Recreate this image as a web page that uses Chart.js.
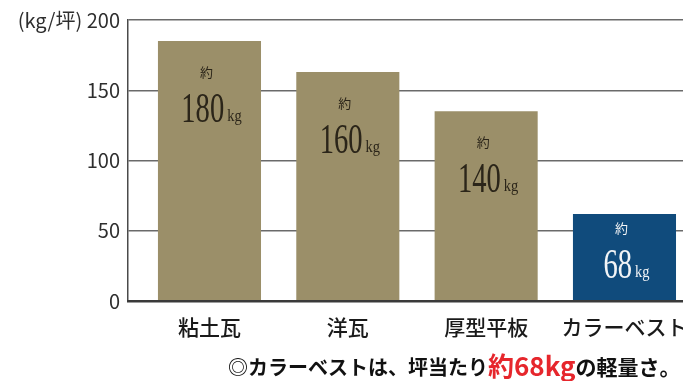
<!DOCTYPE html>
<html>
<head>
<meta charset="utf-8">
<script src="https://cdn.jsdelivr.net/npm/chart.js@4"></script>
<style>
  html, body { margin: 0; padding: 0; background: #fff; overflow: hidden; }
  canvas { display: block; }
</style>
</head>
<body>
<canvas id="weightChart" width="683" height="381"></canvas>
<script>
// ========================================
// DATA
// ========================================
const categories = ['粘土瓦', '洋瓦', '厚型平板', 'カラーベスト'];
const weights = [185, 163, 135, 62];          // bar heights as drawn (kg/坪)
const weightLabels = ['180', '160', '140', '68'];
const yTicks = [0, 50, 100, 150, 200];
const barColors = ['#9b8f69', '#9b8f69', '#9b8f69', '#104b7c'];
const labelColors = ['#2b2519', '#2b2519', '#2b2519', '#f2f4f6'];
const captionParts = [
    { text: '◎カラーベストは、坪当たり', color: '#111', size: 20 },
    { text: '約68kg', color: '#e6262c', size: 26 },
    { text: 'の軽量さ。', color: '#111', size: 21 }
];

const JP = '"Noto Sans CJK JP", "Noto Sans", sans-serif';

// ========================================
// PLUGINS
// ========================================
const barLabels = {
    id: 'barLabels',
    afterDatasetsDraw(chart) {
        const ctx = chart.ctx;
        const meta = chart.getDatasetMeta(0);
        meta.data.forEach((bar, i) => {
            const h = bar.base - bar.y;
            const off = h > 120 ? 0 : -17;
            const cx = bar.x;
            ctx.save();
            ctx.fillStyle = labelColors[i];
            ctx.textBaseline = 'middle';
            ctx.textAlign = 'center';
            ctx.font = '13px ' + JP;
            ctx.fillText('約', cx - 3, bar.y + 31 + off);

            // condensed serif number + small kg
            ctx.font = '42px "Liberation Serif", serif';
            const sx = 0.68;
            const numW = ctx.measureText(weightLabels[i]).width * sx;
            ctx.font = '17px "Liberation Serif", serif';
            const kgW = ctx.measureText('kg').width * 0.85;
            const gap = 3;
            const startX = cx + 2 - (numW + gap + kgW) / 2;
            const baseY = bar.y + 81 + off;

            ctx.textAlign = 'left';
            ctx.textBaseline = 'alphabetic';
            ctx.save();
            ctx.translate(startX, baseY);
            ctx.scale(sx, 1);
            ctx.font = '42px "Liberation Serif", serif';
            ctx.fillText(weightLabels[i], 0, 0);
            ctx.restore();

            ctx.save();
            ctx.translate(startX + numW + gap, baseY - 1);
            ctx.scale(0.85, 1);
            ctx.font = '17px "Liberation Serif", serif';
            ctx.fillText('kg', 0, 0);
            ctx.restore();
            ctx.restore();
        });
    }
};

const caption = {
    id: 'caption',
    afterDraw(chart) {
        const ctx = chart.ctx;
        ctx.save();
        ctx.textBaseline = 'alphabetic';
        ctx.textAlign = 'left';
        let x = 228;
        const y = 375;
        captionParts.forEach(p => {
            ctx.font = 'bold ' + p.size + 'px ' + JP;
            ctx.fillStyle = p.color;
            ctx.fillText(p.text, x, y + (p.size > 21 ? 1 : 0));
            x += ctx.measureText(p.text).width;
        });
        ctx.restore();
    }
};

// ========================================
// CHART
// ========================================
function createWeightChart() {
    const ctx = document.getElementById('weightChart');

    new Chart(ctx, {
        type: 'bar',
        data: {
            datasets: [{
                data: weights.map((v, i) => ({ x: i, y: v })),
                backgroundColor: barColors,
                borderWidth: 0,
                barPercentage: 0.745,
                categoryPercentage: 1
            }]
        },
        options: {
            responsive: false,
            animation: false,
            layout: { padding: { top: 20, left: 0, right: 0, bottom: 0 } },
            plugins: {
                legend: { display: false },
                tooltip: { enabled: false }
            },
            scales: {
                x: {
                    type: 'linear',
                    offset: false,
                    min: -0.589,
                    max: 3.423,
                    afterBuildTicks: s => { s.ticks = categories.map((_, i) => ({ value: i })); },
                    afterFit: s => { s.height = 80; s.paddingLeft = 0; s.paddingRight = 0; },
                    grid: { display: false, drawTicks: false, offset: false },
                    border: { display: true, color: '#3a3a3a', width: 2.5, z: 1 },
                    ticks: {
                        autoSkip: false,
                        maxRotation: 0,
                        padding: 13,
                        color: '#1a1a1a',
                        font: { size: 21, family: JP, weight: '500' },
                        callback: v => categories[v] ?? ''
                    }
                },
                y: {
                    min: 0,
                    max: 200,
                    afterBuildTicks: s => { s.ticks = yTicks.map(v => ({ value: v })); },
                    afterFit: s => { s.width = 128; s.paddingTop = 0; s.paddingBottom = 0; },
                    grid: { color: '#6a6a6a', lineWidth: 1.5, drawTicks: false },
                    border: { display: true, color: '#4a4a4a', width: 1.5 },
                    ticks: {
                        padding: 8,
                        color: '#2e2e2e',
                        font: { size: 20, family: JP },
                        callback: v => v === 200 ? '(kg/坪) 200' : String(v)
                    }
                }
            }
        },
        plugins: [barLabels, caption]
    });
}

createWeightChart();
</script>
</body>
</html>
